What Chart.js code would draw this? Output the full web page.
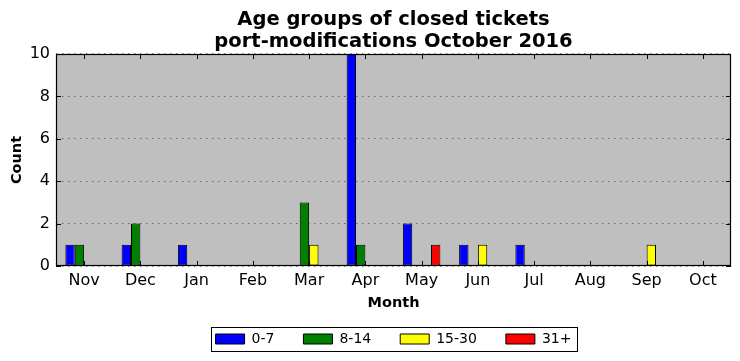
<!DOCTYPE html>
<html>
<head>
<meta charset="utf-8">
<script src="https://cdn.jsdelivr.net/npm/chart.js@4/dist/chart.umd.min.js"></script>
<style>
html,body{margin:0;padding:0;background:#fff;}
#wrap{width:740px;height:361px;}
</style>
</head>
<body>
<div id="wrap"><canvas id="c" width="740" height="361"></canvas></div>
<script>
const months = ['Nov','Dec','Jan','Feb','Mar','Apr','May','Jun','Jul','Aug','Sep','Oct'];
const seriesNames = ['0-7','8-14','15-30','31+'];
const age0to7   = [1,1,1,0,0,10,2,1,1,0,0,0];
const age8to14  = [1,2,0,0,3,1,0,0,0,0,0,0];
const age15to30 = [0,0,0,0,1,0,0,1,0,0,1,0];
const age31plus = [0,0,0,0,0,0,1,0,0,0,0,0];
const yTicks = [0,2,4,6,8,10];
const titleLines = ['Age groups of closed tickets','port-modifications October 2016'];

const colors = ['#0000ff','#008000','#ffff00','#ff0000'];
const values = [age0to7, age8to14, age15to30, age31plus];

const FONT = "'DejaVu Sans', sans-serif";

const frame = {
  id: 'frame',
  afterLayout(chart) {
    const a = chart.chartArea;
    const mid = (a.left + a.right) / 2;
    [chart.legend, chart.titleBlock].forEach(b => {
      if (!b) return;
      const shift = mid - (b.left + b.right) / 2;
      b.left += shift; b.right += shift;
    });
  },
  beforeDraw(chart) {
    const {ctx, chartArea: a} = chart;
    ctx.save();
    ctx.fillStyle = '#bfbfbf';
    ctx.fillRect(a.left, a.top, a.right - a.left, a.bottom - a.top);
    ctx.restore();
  },
  afterDatasetsDraw(chart) {
    const {ctx, chartArea: a} = chart;
    ctx.save();
    ctx.strokeStyle = '#000';
    ctx.lineWidth = 1;
    chart.data.datasets.forEach((ds, di) => {
      const meta = chart.getDatasetMeta(di);
      meta.data.forEach((el, i) => {
        if (ds.data[i] === 0) {
          const y = Math.round(el.y) - 0.5;
          ctx.beginPath();
          ctx.moveTo(el.x - el.width / 2, y);
          ctx.lineTo(el.x + el.width / 2, y);
          ctx.stroke();
        }
      });
    });
    ctx.strokeStyle = '#000';
    ctx.lineWidth = 1.2;
    ctx.strokeRect(Math.round(a.left) + 0.5, Math.round(a.top) + 0.5,
                   Math.round(a.right - a.left) - 1, Math.round(a.bottom - a.top) - 1);
    ctx.lineWidth = 1;
    const xs = chart.scales.x, ys = chart.scales.y;
    const L = 5;
    xs.ticks.forEach((t, i) => {
      const x = Math.round(xs.getPixelForTick(i)) + 0.5;
      ctx.beginPath();
      ctx.moveTo(x, a.bottom); ctx.lineTo(x, a.bottom - L);
      ctx.moveTo(x, a.top); ctx.lineTo(x, a.top + L);
      ctx.stroke();
    });
    ys.ticks.forEach((t, i) => {
      const y = Math.round(ys.getPixelForTick(i)) + 0.5;
      ctx.beginPath();
      ctx.moveTo(a.left, y); ctx.lineTo(a.left + L, y);
      ctx.moveTo(a.right, y); ctx.lineTo(a.right - L, y);
      ctx.stroke();
    });
    ctx.restore();
  },
  afterDraw(chart) {
    const lg = chart.legend;
    if (!lg || !lg.legendHitBoxes || !lg.legendHitBoxes.length) return;
    const hb = lg.legendHitBoxes;
    const first = hb[0], last = hb[hb.length - 1];
    const left = first.left - 5;
    const right = last.left + last.width + 5;
    const cy = first.top + first.height / 2;
    const {ctx} = chart;
    ctx.save();
    ctx.strokeStyle = '#000';
    ctx.lineWidth = 1;
    ctx.strokeRect(Math.round(left) + 0.5, Math.round(cy - 12) + 0.5, Math.round(right - left), 24);
    ctx.restore();
  }
};

new Chart(document.getElementById('c'), {
  type: 'bar',
  data: {
    labels: months,
    datasets: seriesNames.map((n, k) => ({
      label: n,
      data: values[k],
      backgroundColor: colors[k],
      borderColor: '#000',
      borderWidth: 1,
      borderSkipped: false,
      categoryPercentage: 0.667,
      barPercentage: 1.0
    }))
  },
  options: {
    responsive: false,
    animation: false,
    devicePixelRatio: 1,
    layout: {padding: {left: 0, right: 9, top: 0, bottom: 5}},
    plugins: {
      tooltip: {enabled: false},
      title: {
        display: true,
        text: titleLines,
        color: '#000',
        font: {family: FONT, size: 19.5, weight: 'bold', lineHeight: 1.128},
        padding: {top: 9, bottom: 1}
      },
      legend: {
        position: 'bottom',
        labels: {
          color: '#000',
          font: {family: FONT, size: 14},
          boxWidth: 29,
          boxHeight: 10,
          padding: 29
        }
      }
    },
    scales: {
      x: {
        afterFit(s) { s.height = 37; },
        grid: {display: false, drawTicks: false},
        border: {display: false},
        ticks: {color: '#000', font: {family: FONT, size: 16}, padding: 5, maxRotation: 0},
        title: {display: true, text: 'Month', color: '#000',
                font: {family: FONT, size: 14.5, weight: 'bold'}, padding: {top: 0, bottom: -9.4}}
      },
      y: {
        min: 0, max: 10,
        afterFit(s) { s.width = 56; },
        afterBuildTicks(s) { s.ticks = yTicks.map(v => ({value: v})); },
        grid: {color: 'rgba(0,0,0,0.45)', lineWidth: 1, drawTicks: false},
        border: {display: false, dash: [1.5, 4.5]},
        ticks: {color: '#000', font: {family: FONT, size: 16}, padding: 6},
        title: {display: true, text: 'Count', color: '#000',
                font: {family: FONT, size: 14.5, weight: 'bold'}, padding: {top: 8.6, bottom: 0}}
      }
    }
  },
  plugins: [frame]
});
</script>
</body>
</html>
